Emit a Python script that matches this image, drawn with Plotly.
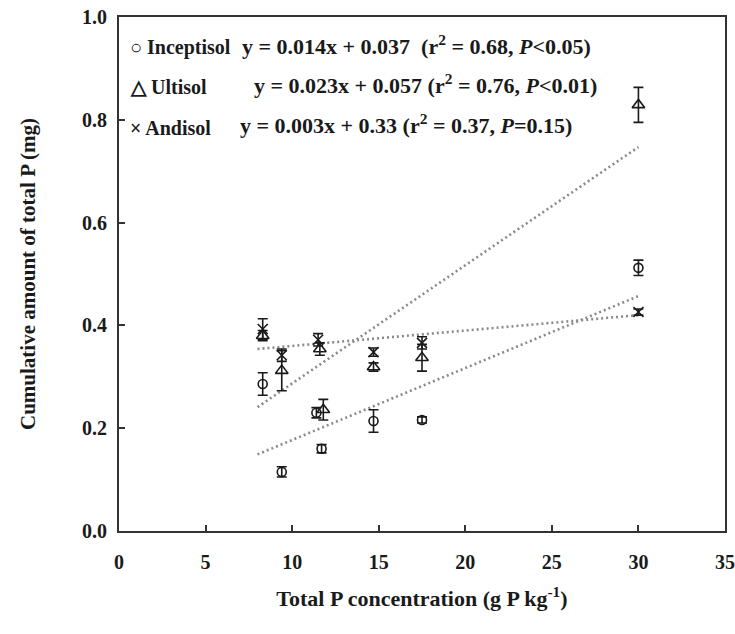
import plotly.graph_objects as go

# Total P concentration (g P kg-1) and cumulative total P released (mg)
incep_x = [8.3, 9.4, 11.4, 11.7, 14.7, 17.5, 30.0]
incep_y = [0.286, 0.115, 0.230, 0.160, 0.214, 0.216, 0.512]
incep_err = [0.022, 0.010, 0.010, 0.008, 0.022, 0.006, 0.015]

ulti_x = [8.3, 9.4, 11.6, 11.8, 14.7, 17.5, 30.0]
ulti_y = [0.380, 0.312, 0.354, 0.236, 0.319, 0.337, 0.829]
ulti_err = [0.010, 0.039, 0.012, 0.020, 0.008, 0.026, 0.034]

andi_x = [8.3, 9.4, 11.5, 14.7, 17.5, 30.0]
andi_y = [0.393, 0.342, 0.372, 0.348, 0.366, 0.426]
andi_err = [0.020, 0.012, 0.012, 0.008, 0.012, 0.006]

# Linear fits: slope, intercept, and the x span each fit is drawn over
fit_incep = (0.014, 0.037)
fit_ulti = (0.023, 0.057)
fit_andi = (0.003, 0.33)
fit_x = [8.0, 30.0]

x_ticks = [0, 5, 10, 15, 20, 25, 30, 35]
y_ticks = [0.0, 0.2, 0.4, 0.6, 0.8, 1.0]

FONT = "Liberation Serif"
INK = "#1a1a1a"

fig = go.Figure()


def add_series(xs, ys, errs, symbol, size):
    fig.add_trace(go.Scatter(
        x=xs, y=ys, mode="markers",
        marker=dict(symbol=symbol, size=size, color=INK,
                    line=dict(color=INK, width=1.6)),
        error_y=dict(type="data", array=errs, visible=True,
                     color=INK, thickness=1.6, width=5),
        showlegend=False,
    ))


def add_fit(coef):
    slope, intercept = coef
    fig.add_trace(go.Scatter(
        x=fit_x, y=[slope * v + intercept for v in fit_x],
        mode="lines",
        line=dict(color="#8a8a8a", width=2.6, dash="2px,3px"),
        showlegend=False, hoverinfo="skip",
    ))


add_fit(fit_incep)
add_fit(fit_ulti)
add_fit(fit_andi)
add_series(incep_x, incep_y, incep_err, "circle-open", 9)
add_series(ulti_x, ulti_y, ulti_err, "triangle-up-open", 11)
add_series(andi_x, andi_y, andi_err, "x-thin-open", 10)

# Legend rows with fitted equations
rows = [
    ("○ Inceptisol", "y = 0.014x + 0.037  (r<sup>2</sup> = 0.68, <i>P</i>&lt;0.05)", 0.946, 240),
    ("△ Ultisol", "y = 0.023x + 0.057 (r<sup>2</sup> = 0.76, <i>P</i>&lt;0.01)", 0.870, 252),
    ("× Andisol", "y = 0.003x + 0.33 (r<sup>2</sup> = 0.37, <i>P</i>=0.15)", 0.791, 238),
]
L, R = 119, 725
for name, eq, yp, eqx in rows:
    fig.add_annotation(x=(128 - L) / (R - L), y=yp - 0.006, xref="paper", yref="paper",
                       text=f"<b>{name}</b>", showarrow=False, xanchor="left",
                       yanchor="middle", font=dict(family=FONT, size=20, color=INK))
    fig.add_annotation(x=(eqx - L) / (R - L), y=yp, xref="paper", yref="paper",
                       text=f"<b>{eq}</b>", showarrow=False, xanchor="left",
                       yanchor="middle", font=dict(family=FONT, size=22, color=INK))

axis_common = dict(
    showline=True, linecolor="#333333", linewidth=2, mirror=True,
    ticks="inside", ticklen=6, tickcolor="#333333", tickwidth=1.5,
    showgrid=False, zeroline=False,
    tickfont=dict(family=FONT, size=20, color=INK),
)

fig.update_xaxes(range=[0, 35], tickvals=x_ticks,
                 ticktext=[f"<b>{v}</b>" for v in x_ticks],
                 ticklabelstandoff=12,
                 title=dict(text="<b>Total P concentration (g P kg<sup>-1</sup>)</b>",
                            font=dict(family=FONT, size=22, color=INK), standoff=19),
                 **axis_common)
fig.update_yaxes(range=[0, 1.0], tickvals=y_ticks,
                 ticktext=[f"<b>{v:.1f}</b>" for v in y_ticks],
                 ticklabelstandoff=6,
                 title=dict(text="<b>Cumulative amount of total P (mg)</b>",
                            font=dict(family=FONT, size=21, color=INK), standoff=41),
                 **axis_common)

fig.update_layout(
    width=735, height=634,
    margin=dict(l=119, r=10, t=17, b=103, autoexpand=False),
    plot_bgcolor="white", paper_bgcolor="white",
    font=dict(family=FONT, color=INK),
)

fig.write_html("out.html")
